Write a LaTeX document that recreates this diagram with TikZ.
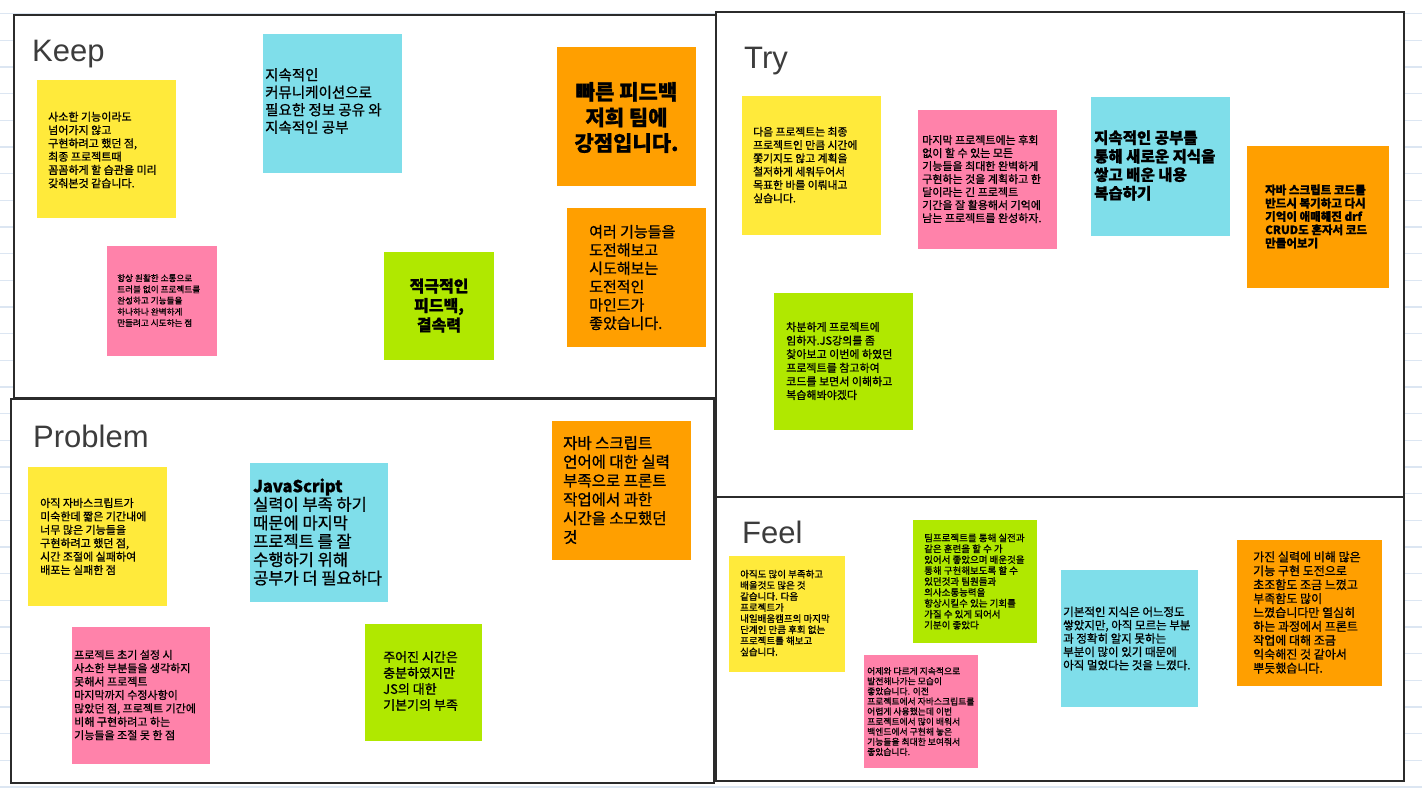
\documentclass[tikz,border=0pt]{standalone}
\usepackage{fontspec}
\newfontfamily\kr[FakeBold=0.9]{Noto Sans CJK KR}
\newfontfamily\titlefont{Liberation Sans}
\newcommand\kfont[2]{\kr\fontsize{#1}{#2}\selectfont}
\definecolor{noteyellow}{HTML}{FFEA3B}
\definecolor{notecyan}{HTML}{7FDEEA}
\definecolor{noteorange}{HTML}{FF9F00}
\definecolor{notepink}{HTML}{FF82AA}
\definecolor{notegreen}{HTML}{B0E800}
\definecolor{framegray}{HTML}{2B2B2B}
\definecolor{titlegray}{HTML}{3C3C3C}
\definecolor{gridblue}{HTML}{DCE6F2}

\begin{document}
\begin{tikzpicture}[x=1pt,y=-1pt,
  board/.style={fill=white, draw=framegray, line width=1.6pt},
  heading/.style={anchor=base west, inner sep=0, text=titlegray, font=\titlefont\fontsize{31}{36}\selectfont},
  memo/.style={anchor=west, inner sep=0, align=left},
  memoc/.style={anchor=center, inner sep=0, align=center}]
\useasboundingbox (0,0) rectangle (1422,800);
\fill[white] (0,0) rectangle (1422,800);
\foreach \k in {0,...,29}
  \draw[gridblue, line width=1.5pt] (0,{13.65+26.67*\k}) -- (1422,{13.65+26.67*\k});

% four boards
\draw[board] (14,15) rectangle (716,398);
\draw[board] (716,12) rectangle (1404,497);
\draw[board] (11,399) rectangle (714,783);
\draw[board] (716,497) rectangle (1404,781);

\node[heading] (keep) at (32,62) {Keep};
\node[heading] (try) at (744,69) {Try};
\node[heading] (problem) at (33,447) {Problem};
\node[heading] (feel) at (742,543) {Feel};

% Keep
\fill[noteyellow] (37,80) rectangle (176,218);
\node[memo, font=\kfont{11}{13.3}] (keepa) at (48,150) {사소한 기능이라도\\넘어가지 않고\\구현하려고 했던 점,\\최종 프로젝트때\\꼼꼼하게 할 습관을 미리\\갖춰본것 같습니다.};
\fill[notecyan] (263,34) rectangle (402,173);
\node[memo, font=\kfont{14.5}{17.5}] (keepb) at (265,101) {지속적인\\커뮤니케이션으로\\필요한 정보 공유 와\\지속적인 공부};
\fill[noteorange] (557,47) rectangle (696,186);
\node[memoc, font=\kfont{21}{25.6}\bfseries] (keepc) at (626.5,117.5) {빠른 피드백\\저희 팀에\\강점입니다.};
\fill[notepink] (107,246) rectangle (217,356);
\node[memo, font=\kfont{8.6}{11.2}] (keepd) at (117,300.5) {항상 원활한 소통으로\\트러블 없이 프로젝트를\\완성하고 기능들을\\하나하나 완벽하게\\만들려고 시도하는 점};
\fill[notegreen] (384,252) rectangle (494,360);
\node[memoc, font=\kfont{16}{19.5}\bfseries] (keepe) at (439,305.5) {적극적인\\피드백,\\결속력};
\fill[noteorange] (567,208) rectangle (706,347);
\node[memo, font=\kfont{15}{18.3}] (keepf) at (589,277.5) {여러 기능들을\\도전해보고\\시도해보는\\도전적인\\마인드가\\좋았습니다.};

% Try
\fill[noteyellow] (742,96) rectangle (881,235);
\node[memo, font=\kfont{10.8}{13.3}] (trya) at (753,165) {다음 프로젝트는 최종\\프로젝트인 만큼 시간에\\쫓기지도 않고 계획을\\철저하게 세워두어서\\목표한 바를 이뤄내고\\싶습니다.};
\fill[notepink] (918,110) rectangle (1057,249);
\node[memo, font=\kfont{11}{13}] (tryb) at (922,179) {마지막 프로젝트에는 후회\\없이 할 수 있는 모든\\기능들을 최대한 완벽하게\\구현하는 것을 계획하고 한\\달이라는 긴 프로젝트\\기간을 잘 활용해서 기억에\\남는 프로젝트를 완성하자.};
\fill[notecyan] (1091,97) rectangle (1230,236);
\node[memo, font=\kfont{15.5}{18.5}\bfseries] (tryc) at (1094,165.5) {지속적인 공부를\\통해 새로운 지식을\\쌓고 배운 내용\\복습하기};
\fill[noteorange] (1247,146) rectangle (1389,288);
\node[memo, font=\kfont{11.5}{13.3}\bfseries] (tryd) at (1265,216.5) {자바 스크립트 코드를\\반드시 복기하고 다시\\기억이 애매해진 drf\\CRUD도 혼자서 코드\\만들어보기};
\fill[notegreen] (774,293) rectangle (913,430);
\node[memo, font=\kfont{11}{13.6}] (trye) at (786,361) {차분하게 프로젝트에\\임하자.JS강의를 좀\\찾아보고 이번에 하였던\\프로젝트를 참고하여\\코드를 보면서 이해하고\\복습해봐야겠다};

% Problem
\fill[noteyellow] (28,467) rectangle (167,606);
\node[memo, font=\kfont{11}{13.4}] (proba) at (40,536.5) {아직 자바스크립트가\\미숙한데 짧은 기간내에\\너무 많은 기능들을\\구현하려고 했던 점,\\시간 조절에 실패하여\\배포는 실패한 점};
\fill[notecyan] (250,463) rectangle (388,602);
\node[memo, font=\kfont{16.5}{18.4}] (probb) at (253,532) {\textbf{JavaScript}\\실력이 부족 하기\\때문에 마지막\\프로젝트 를 잘\\수행하기 위해\\공부가 더 필요하다};
\fill[notepink] (72,627) rectangle (210,764);
\node[memo, font=\kfont{11}{13.4}] (probc) at (74,695) {프로젝트 초기 설정 시\\사소한 부분들을 생각하지\\못해서 프로젝트\\마지막까지 수정사항이\\많았던 점, 프로젝트 기간에\\비해 구현하려고 하는\\기능들을 조절 못 한 점};
\fill[notegreen] (365,624) rectangle (482,741);
\node[memo, font=\kfont{13}{16}] (probd) at (383,681) {주어진 시간은\\충분하였지만\\JS의 대한\\기본기의 부족};
\fill[noteorange] (552,421) rectangle (691,560);
\node[memo, font=\kfont{15.5}{18.8}] (probe) at (563,490) {자바 스크립트\\언어에 대한 실력\\부족으로 프론트\\작업에서 과한\\시간을 소모했던\\것};

% Feel
\fill[noteyellow] (729,556) rectangle (845,672);
\node[memo, font=\kfont{9.5}{11.1}] (feela) at (740,613) {아직도 많이 부족하고\\배울것도 많은 것\\같습니다. 다음\\프로젝트가\\내일배움캠프의 마지막\\단계인 만큼 후회 없는\\프로젝트를 해보고\\싶습니다.};
\fill[notepink] (864,655) rectangle (978,768);
\node[memo, font=\kfont{8.8}{10.1}] (feelb) at (867,711.5) {어제와 다르게 지속적으로\\발전해나가는 모습이\\좋았습니다. 이전\\프로젝트에서 자바스크립트를\\어렵게 사용했는데 이번\\프로젝트에서 많이 배워서\\백엔드에서 구현해 놓은\\기능들을 최대한 보여줘서\\좋았습니다.};
\fill[notegreen] (913,520) rectangle (1037,643);
\node[memo, font=\kfont{9.5}{10.9}] (feelc) at (924,581.5) {팀프로젝트를 통해 실전과\\같은 훈련을 할 수 가\\있어서 좋았으며 배운것을\\통해 구현해보도록 할 수\\있던것과 팀원들과\\의사소통능력을\\향상시킬수 있는 기회를\\가질 수 있게 되어서\\기분이 좋았다};
\fill[notecyan] (1061,570) rectangle (1198,707);
\node[memo, font=\kfont{11.5}{13.3}] (feeld) at (1063,638.5) {기본적인 지식은 어느정도\\쌓았지만, 아직 모르는 부분\\과 정확히 알지 못하는\\부분이 많이 있기 때문에\\아직 멀었다는 것을 느꼈다.};
\fill[noteorange] (1237,540) rectangle (1382,686);
\node[memo, font=\kfont{12}{13.9}] (feele) at (1253,612.5) {가진 실력에 비해 많은\\기능 구현 도전으로\\초조함도 조금 느꼈고\\부족함도 많이\\느꼈습니다만 열심히\\하는 과정에서 프론트\\작업에 대해 조금\\익숙해진 것 같아서\\뿌듯했습니다.};
\end{tikzpicture}
\end{document}
